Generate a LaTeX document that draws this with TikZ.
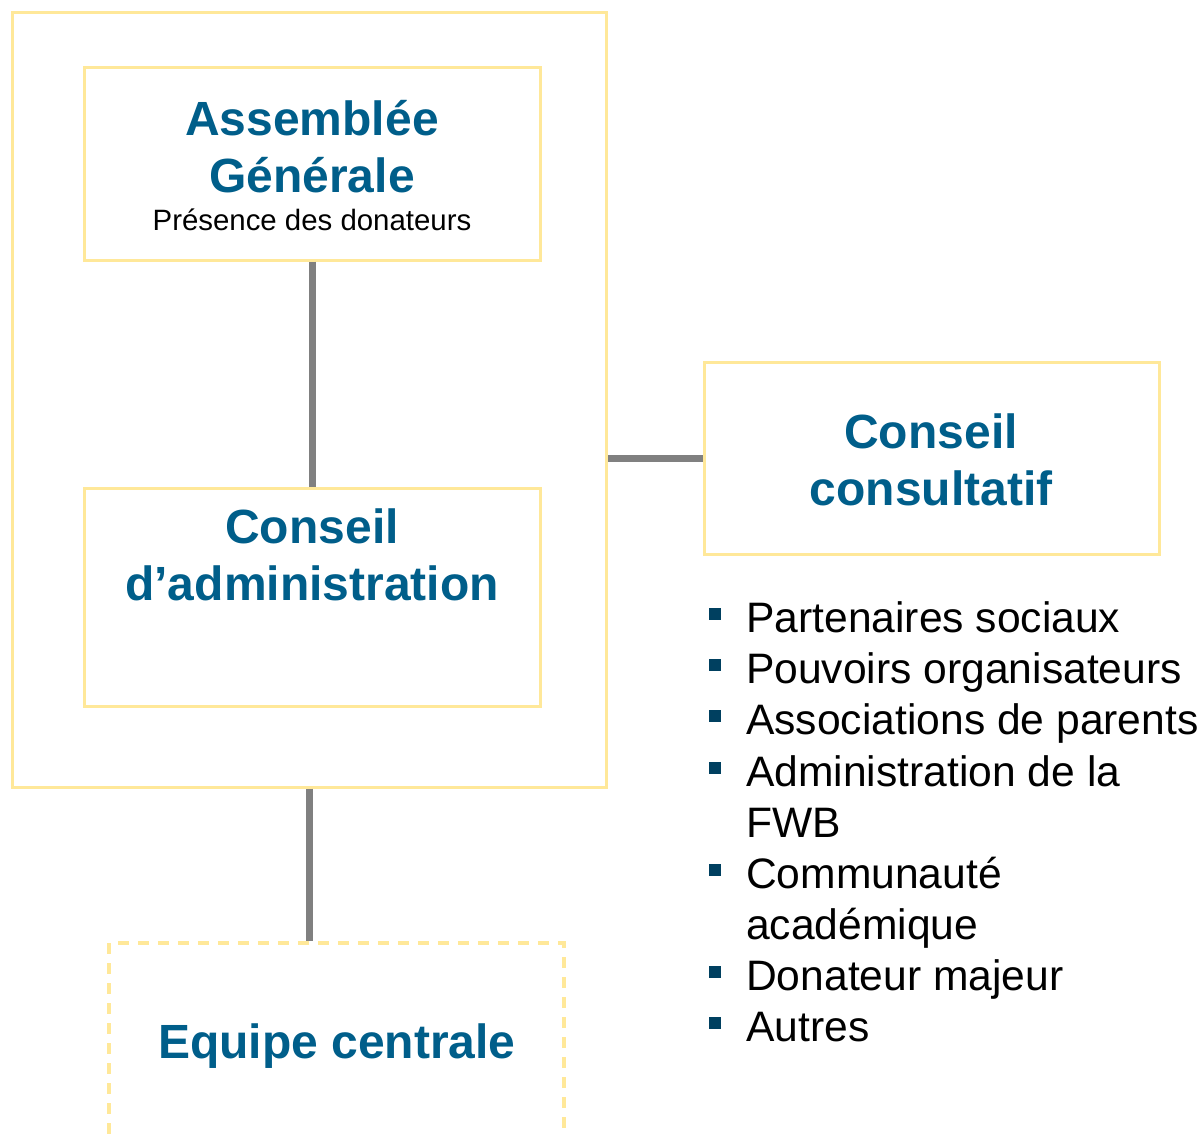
\documentclass[tikz,border=0pt]{standalone}
\usepackage{fontspec}
\setmainfont{Liberation Sans}
\definecolor{boxyellow}{RGB}{255,232,153}
\definecolor{titleblue}{RGB}{0,94,138}
\definecolor{bulletblue}{RGB}{0,64,96}
\definecolor{lineGray}{RGB}{128,128,128}
\begin{document}
\begin{tikzpicture}[x=1pt,y=-1pt,
  frame/.style={draw=boxyellow,line width=3pt,inner sep=0pt},
  dashframe/.style={draw=boxyellow,line width=3.5pt,inner sep=0pt,dash pattern=on 11pt off 9pt},
  link/.style={draw=lineGray,line width=7pt},
  title/.style={text=titleblue,font=\fontsize{48}{57}\selectfont\bfseries,align=center,anchor=base,inner sep=0pt},
  sub/.style={font=\fontsize{29.4}{34}\selectfont,anchor=base,inner sep=0pt},
  item/.style={font=\fontsize{42.6}{51}\selectfont,anchor=base west,inner sep=0pt,align=left},
  bul/.style={fill=bulletblue,minimum size=12.5pt,inner sep=0pt}]
\useasboundingbox (0,0) rectangle (1202,1134);
\clip (0,0) rectangle (1202,1134);
% boxes
\node[frame,minimum width=594pt,minimum height=774pt] (outer) at (309,400) {};
\node[frame,minimum width=456pt,minimum height=192pt] (ag) at (312,164) {};
\node[frame,minimum width=456pt,minimum height=218pt] (ca) at (312,597) {};
\node[frame,minimum width=455pt,minimum height=192pt] (cc) at (931.5,458) {};
\node[dashframe,minimum width=455pt,minimum height=230pt] (eq) at (336.5,1058) {};
% connectors
\draw[link] (ag.south) -- (ca.north);
\draw[link] (cc.west) -- (cc.west -| outer.east);
\draw[link] (outer.south) -- (outer.south |- eq.north);
% texts
\node[title] (agt1) at (312,136) {Assemblée};
\node[title] (agt2) at (312,193) {Générale};
\node[sub] (agt3) at (312,231) {Présence des donateurs};
\node[title] (cat1) at (312,543) {Conseil};
\node[title] (cat2) at (312,600) {d’administration};
\node[title] (cct1) at (931,448) {Conseil};
\node[title] (cct2) at (931,505) {consultatif};
\node[title] (eqt) at (337,1058) {Equipe centrale};
% bullet list
\node[item] (i1) at (746,632) {Partenaires sociaux};
\node[item] (i2) at (746,683) {Pouvoirs organisateurs};
\node[item] (i3) at (746,734) {Associations de parents};
\node[item] (i4) at (746,786) {Administration de la};
\node[item] (i4b) at (746,837) {FWB};
\node[item] (i5) at (746,888) {Communauté};
\node[item] (i5b) at (746,939) {académique};
\node[item] (i6) at (746,990) {Donateur majeur};
\node[item] (i7) at (746,1041) {Autres};
\node[bul] (b1) at (715,614) {};
\node[bul] (b2) at (715,665) {};
\node[bul] (b3) at (715,716) {};
\node[bul] (b4) at (715,768) {};
\node[bul] (b5) at (715,870) {};
\node[bul] (b6) at (715,972) {};
\node[bul] (b7) at (715,1023) {};
\end{tikzpicture}
\end{document}
